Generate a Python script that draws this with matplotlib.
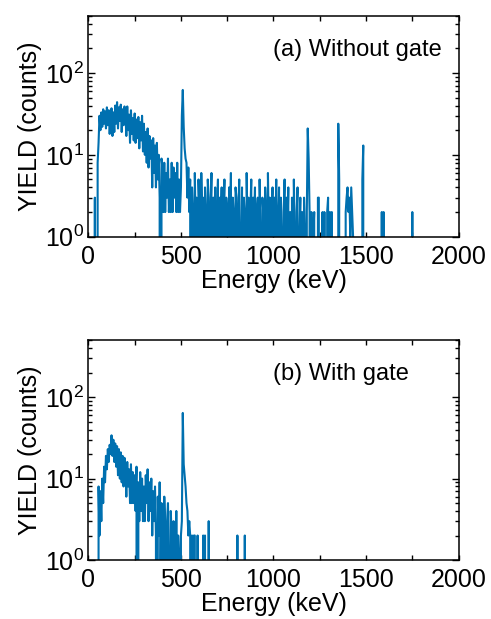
import numpy as np
import matplotlib
matplotlib.use('Agg')
import matplotlib.pyplot as plt
from matplotlib.ticker import MultipleLocator, LogLocator, NullFormatter

plt.rcParams['font.family'] = ['Liberation Sans', 'DejaVu Sans']
plt.rcParams['mathtext.fontset'] = 'custom'
plt.rcParams['mathtext.rm'] = 'Liberation Sans'

# bin width 5 keV, energies start at 0 keV
bin_width = 5

# (a) without gate, counts per bin, 0-1795 keV (one row = 100 keV)
counts_a = [
    0, 0, 0, 0, 0, 0, 0, 3, 0, 0, 8, 14, 30, 20, 33, 22, 36, 24, 34, 21,
    38, 23, 35, 18, 29, 37, 17, 33, 19, 40, 24, 44, 21, 38, 26, 41, 19, 36, 23, 39,
    33, 17, 39, 20, 31, 14, 35, 18, 28, 15, 32, 14, 27, 16, 29, 12, 25, 15, 30, 11,
    24, 10, 19, 8, 21, 7, 17, 9, 15, 4, 16, 6, 13, 4, 14, 5, 10, 3, 0, 9,
    7, 2, 8, 2, 6, 3, 9, 2, 5, 2, 8, 2, 7, 3, 6, 2, 8, 2, 5, 2,
    4, 30, 62, 22, 12, 9, 8, 3, 7, 2, 5, 0, 4, 2, 0, 6, 1, 3, 0, 5,
    2, 0, 6, 1, 3, 0, 4, 2, 0, 5, 3, 0, 2, 6, 0, 3, 1, 4, 0, 2,
    5, 0, 3, 1, 4, 0, 2, 5, 0, 3, 2, 0, 4, 1, 6, 0, 3, 2, 0, 4,
    3, 0, 2, 5, 0, 1, 4, 0, 3, 2, 0, 6, 1, 3, 0, 2, 5, 0, 3, 1,
    4, 0, 2, 3, 0, 5, 1, 0, 3, 2, 0, 4, 2, 0, 6, 1, 3, 0, 2, 4,
    0, 3, 1, 5, 0, 2, 4, 0, 3, 1, 0, 2, 5, 0, 3, 1, 4, 0, 2, 0,
    3, 0, 5, 1, 0, 2, 4, 0, 1, 3, 0, 2, 0, 3, 1, 0, 2, 21, 9, 2,
    0, 2, 0, 1, 2, 0, 0, 0, 3, 3, 0, 0, 0, 2, 0, 2, 0, 0, 2, 3,
    0, 2, 0, 2, 0, 0, 0, 0, 0, 0, 24, 5, 0, 0, 0, 0, 0, 0, 2, 3,
    4, 2, 3, 1, 4, 2, 1, 0, 0, 0, 0, 0, 0, 0, 0, 0, 5, 13, 0, 0,
    0, 0, 0, 0, 0, 0, 0, 0, 0, 0, 0, 0, 0, 0, 0, 0, 0, 2, 0, 2,
    0, 0, 0, 0, 0, 0, 0, 0, 0, 0, 0, 0, 0, 0, 0, 0, 0, 0, 0, 0,
    0, 0, 0, 0, 0, 0, 0, 0, 0, 0, 2, 0, 0, 0, 0, 0, 0, 0, 0, 0,
]

# (b) with gate, counts per bin, 0-895 keV
counts_b = [
    0, 0, 0, 0, 0, 0, 0, 0, 0, 0, 0, 8, 2, 7, 3, 10, 5, 14, 9, 19,
    13, 23, 16, 26, 20, 34, 19, 30, 16, 27, 14, 25, 11, 23, 10, 21, 9, 19, 8, 18,
    14, 6, 16, 8, 13, 5, 15, 5, 12, 5, 11, 4, 14, 0, 9, 3, 12, 4, 10, 3,
    8, 3, 11, 5, 13, 3, 9, 4, 10, 2, 7, 3, 8, 2, 0, 6, 2, 9, 1, 5,
    4, 0, 6, 2, 0, 3, 5, 1, 0, 4, 2, 0, 3, 1, 0, 4, 0, 2, 1, 0,
    2, 3, 64, 15, 11, 8, 5, 4, 2, 3, 2, 0, 2, 0, 2, 2, 0, 0, 2, 0,
    0, 0, 0, 0, 2, 0, 2, 0, 0, 0, 3, 0, 0, 0, 0, 0, 0, 0, 0, 0,
    0, 0, 0, 0, 0, 0, 0, 0, 0, 0, 0, 0, 0, 0, 0, 0, 0, 0, 0, 0,
    0, 2, 0, 0, 0, 0, 0, 0, 0, 2, 0, 0, 0, 0, 0, 0, 0, 0, 0, 0,
]

labels = ['(a) Without gate', '(b) With gate']
col = '#0070b0'

fig = plt.figure(figsize=(4.91, 6.19), dpi=100)
ax_a = fig.add_axes([0.180, 0.6176, 0.754, 0.357])
ax_b = fig.add_axes([0.180, 0.0953, 0.754, 0.355])

for ax, counts, lab in zip([ax_a, ax_b], [counts_a, counts_b], labels):
    e = np.arange(len(counts)) * bin_width
    ax.plot(e, counts, color=col, lw=1.5)
    ax.set_yscale('log')
    ax.set_xlim(0, 2000)
    ax.set_ylim(1, 500)
    ax.xaxis.set_major_locator(MultipleLocator(500))
    ax.xaxis.set_minor_locator(MultipleLocator(250))
    ax.yaxis.set_major_locator(LogLocator(base=10, numticks=5))
    ax.yaxis.set_minor_locator(LogLocator(base=10, subs=np.arange(2, 10), numticks=20))
    ax.yaxis.set_minor_formatter(NullFormatter())
    ax.tick_params(which='both', direction='in', top=True, right=True,
                   labelsize=18, width=1.0)
    ax.tick_params(axis='x', which='both', length=3.5, pad=6)
    ax.tick_params(axis='y', which='major', length=5, pad=3)
    ax.tick_params(axis='y', which='minor', length=3)
    for s in ax.spines.values():
        s.set_linewidth(1.1)
    ax.set_xlabel('Energy (keV)', fontsize=18, labelpad=0)
    ax.set_ylabel('YIELD (counts)', fontsize=18, labelpad=2)
    ax.text(0.50, 0.845, lab, transform=ax.transAxes, fontsize=17,
            ha='left', va='center')

fig.savefig('out.png', dpi=100)
